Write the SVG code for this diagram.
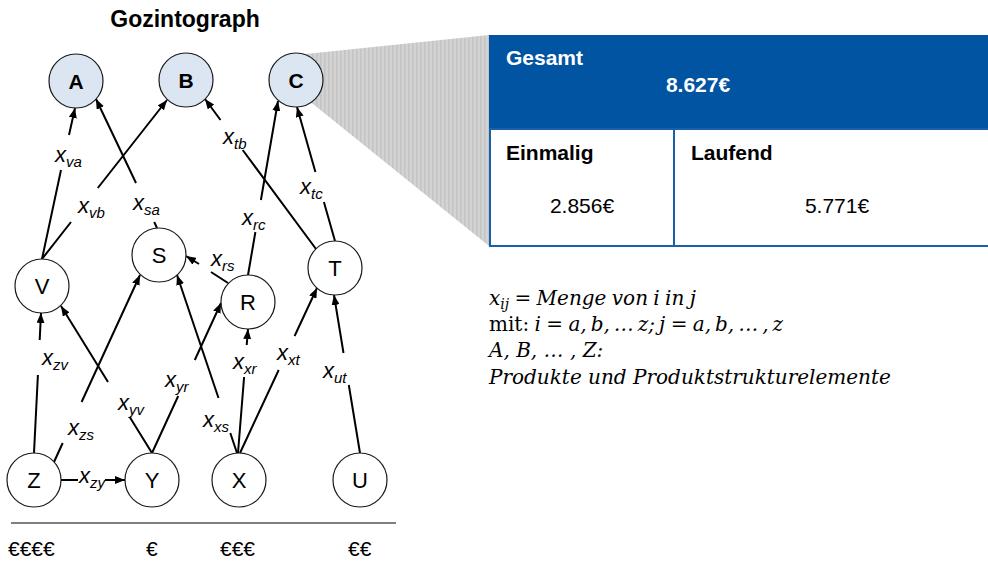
<svg xmlns="http://www.w3.org/2000/svg" width="988" height="562" viewBox="0 0 988 562">
  <style>
    .node circle { fill: #ffffff; stroke: #1a1a1a; stroke-width: 1.2; }
    .node.product circle { fill: #dce6f2; }
    .node text { font-family: "Liberation Sans", Arial, sans-serif; font-size: 22px; text-anchor: middle; fill: #000; }
    .node.product text { font-weight: bold; font-size: 21px; }
    .edge { fill: none; stroke: #000; stroke-width: 2; marker-end: url(#arrow); }
    .lbl { font-family: "Liberation Sans", Arial, sans-serif; font-style: italic; font-size: 22px; fill: #000; }
    .lbl .sub { font-size: 15px; }
    .title { font-family: "Liberation Sans", Arial, sans-serif; font-weight: bold; font-size: 23px; text-anchor: middle; }
    .euro { font-family: "Liberation Sans", Arial, sans-serif; font-size: 21px; }
    .tbl { font-family: "Liberation Sans", Arial, sans-serif; font-size: 21px; }
    .tbl.b { font-weight: bold; }
    .math { font-family: "DejaVu Serif", "Liberation Serif", serif; font-size: 20px; fill: #000; }
    .math .it { font-style: italic; }
  </style>
  <defs>
    <marker id="arrow" markerUnits="userSpaceOnUse" markerWidth="10" markerHeight="8" refX="10" refY="4" orient="auto">
      <path d="M0,0 L10,4 L0,8 z" fill="#000"/>
    </marker>
    <pattern id="stripes" width="4" height="10" patternUnits="userSpaceOnUse">
      <rect width="4" height="10" fill="#d3d3d3"/>
      <rect width="1.5" height="10" fill="#c4c4c4"/>
    </pattern>
  </defs>

  <rect width="988" height="562" fill="#ffffff"/>

  <!-- title -->
  <text class="title" x="185" y="27">Gozintograph</text>

  <!-- zoom fan from C to the cost table -->
  <polygon points="296,55 489,35 489,246 300,93.5" fill="url(#stripes)"/>

  <!-- cost table -->
  <g id="cost-table">
    <rect x="489" y="35" width="500" height="94" fill="#0054a1"/>
    <rect x="490" y="129" width="184" height="117" fill="#ffffff" stroke="#1a5fab" stroke-width="2"/>
    <rect x="674" y="129" width="320" height="117" fill="#ffffff" stroke="#1a5fab" stroke-width="2"/>
    <text class="tbl b" x="506" y="65" fill="#ffffff">Gesamt</text>
    <text class="tbl b" x="698" y="92" fill="#ffffff" text-anchor="middle">8.627€</text>
    <text class="tbl b" x="506" y="160" fill="#000">Einmalig</text>
    <text class="tbl b" x="691" y="160" fill="#000">Laufend</text>
    <text class="tbl" x="582" y="213" fill="#000" text-anchor="middle">2.856€</text>
    <text class="tbl" x="837" y="213" fill="#000" text-anchor="middle">5.771€</text>
  </g>

  <!-- legend -->
  <g id="legend" class="math">
    <text x="489" y="305" word-spacing="-1"><tspan class="it">x</tspan><tspan class="it" font-size="14" dy="4">ij</tspan><tspan dy="-4"> = </tspan><tspan class="it">Menge von i in j</tspan></text>
    <text x="489" y="331" word-spacing="-1">mit: <tspan class="it">i</tspan> = <tspan class="it">a,&#8201;b,&#8201;…&#8201;z;&#8201;j</tspan> = <tspan class="it">a,&#8201;b,&#8201;…&#8201;,&#8201;z</tspan></text>
    <text x="489" y="357" font-style="italic">A, B, … , Z:</text>
    <text x="489" y="384" font-style="italic">Produkte und Produktstrukturelemente</text>
  </g>

  <!-- connectors -->
  <g id="connectors">
    <path class="edge" d="M42,259 L61,170 M69,135 L75,108"/>
    <path class="edge" d="M42,259 L71,222 M97.8,188 L167,100"/>
    <path class="edge" d="M157,228 L154.2,222 M136,183 L96,99"/>
    <path class="edge" d="M316,249 L242.7,150 M220.5,120 L205,99"/>
    <path class="edge" d="M248,275 L255.4,232 M260.9,200 L278,101"/>
    <path class="edge" d="M335,241 L323.9,202 M315.4,172 L297,107"/>
    <path class="edge" d="M228,283 L211,272 M199,264 L186,256"/>
    <path class="edge" d="M34,453 L37.9,375 M39.7,340 L41,313"/>
    <path class="edge" d="M54,462 L62.7,443 M81.6,402 L140,275"/>
    <path class="edge" d="M152,453 L129.7,417 M108,382 L61,306"/>
    <path class="edge" d="M152,453 L178.2,396 M194.8,360 L221,303"/>
    <path class="edge" d="M237,453 L230.3,433 M218.5,398 L177,275"/>
    <path class="edge" d="M238,453 L244.1,377 M246.7,345 L248,329"/>
    <path class="edge" d="M240,453 L278.7,370 M294.6,336 L317,288"/>
    <path class="edge" d="M360,453 L348.8,385 M343.5,353 L334,295"/>
    <path class="edge" d="M61,480 L78,480 M105,480 L125,480"/>
  </g>

  <!-- quantity labels -->
  <g id="edge-labels" class="lbl">
    <text x="55" y="162">x<tspan class="sub" dy="5">va</tspan></text>
    <text x="78" y="213">x<tspan class="sub" dy="5">vb</tspan></text>
    <text x="133" y="210">x<tspan class="sub" dy="5">sa</tspan></text>
    <text x="223" y="144">x<tspan class="sub" dy="5">tb</tspan></text>
    <text x="242" y="225">x<tspan class="sub" dy="5">rc</tspan></text>
    <text x="300" y="194">x<tspan class="sub" dy="5">tc</tspan></text>
    <text x="211" y="266">x<tspan class="sub" dy="5">rs</tspan></text>
    <text x="42" y="365">x<tspan class="sub" dy="5">zv</tspan></text>
    <text x="68" y="435">x<tspan class="sub" dy="5">zs</tspan></text>
    <text x="118" y="410">x<tspan class="sub" dy="5">yv</tspan></text>
    <text x="165" y="387">x<tspan class="sub" dy="5">yr</tspan></text>
    <text x="203" y="427">x<tspan class="sub" dy="5">xs</tspan></text>
    <text x="233" y="369">x<tspan class="sub" dy="5">xr</tspan></text>
    <text x="277" y="360">x<tspan class="sub" dy="5">xt</tspan></text>
    <text x="323" y="378">x<tspan class="sub" dy="5">ut</tspan></text>
    <text x="79" y="483">x<tspan class="sub" dy="5">zy</tspan></text>
  </g>

  <!-- nodes -->
  <g id="node-A" class="node product"><circle cx="76" cy="81" r="27"/><text x="76" y="88.5">A</text></g>
  <g id="node-B" class="node product"><circle cx="186" cy="80" r="27"/><text x="186" y="87.5">B</text></g>
  <g id="node-C" class="node product"><circle cx="296" cy="80" r="27"/><text x="296" y="87.5">C</text></g>
  <g id="node-V" class="node"><circle cx="42" cy="286" r="27"/><text x="42" y="294">V</text></g>
  <g id="node-S" class="node"><circle cx="159" cy="255" r="27"/><text x="159" y="263">S</text></g>
  <g id="node-R" class="node"><circle cx="248" cy="302" r="27"/><text x="248" y="310">R</text></g>
  <g id="node-T" class="node"><circle cx="335" cy="268" r="27"/><text x="335" y="276">T</text></g>
  <g id="node-Z" class="node"><circle cx="34" cy="480" r="27"/><text x="34" y="488">Z</text></g>
  <g id="node-Y" class="node"><circle cx="152" cy="480" r="27"/><text x="152" y="488">Y</text></g>
  <g id="node-X" class="node"><circle cx="239" cy="480" r="27"/><text x="239" y="488">X</text></g>
  <g id="node-U" class="node"><circle cx="360" cy="480" r="27"/><text x="360" y="488">U</text></g>

  <!-- price levels -->
  <line x1="11" y1="523" x2="396" y2="523" stroke="#000" stroke-width="1.2"/>
  <g id="price-levels" class="euro">
    <text x="8" y="556">€€€€</text>
    <text x="146" y="556">€</text>
    <text x="220" y="556">€€€</text>
    <text x="348" y="556">€€</text>
  </g>
</svg>
